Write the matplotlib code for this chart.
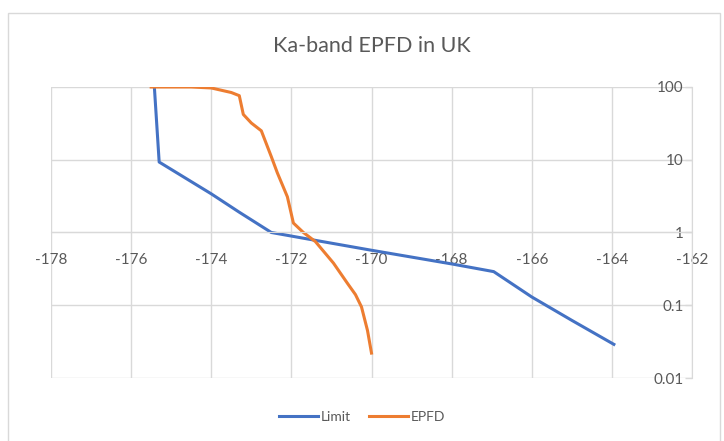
import matplotlib.pyplot as plt
import matplotlib.ticker as mticker
from matplotlib.patches import Rectangle

plt.rcParams['font.family'] = ['Lato', 'DejaVu Sans']
plt.rcParams['axes.unicode_minus'] = False

# data
limit_x = [-175.42, -175.3, -174.0, -173.3, -172.5, -171.4, -170.0, -168.0, -166.95, -166.0, -165.0, -163.95]
limit_y = [100, 9.3, 3.4, 1.9, 1.0, 0.78, 0.57, 0.37, 0.29, 0.13, 0.062, 0.029]

epfd_x = [-175.5, -174.5, -174.0, -173.5, -173.3, -173.2, -173.0, -172.75, -172.5, -172.35,
          -172.1, -171.95, -171.7, -171.4, -170.95, -170.6, -170.4, -170.25, -170.1, -170.0]
epfd_y = [100, 100, 97, 84, 76, 42, 32, 25, 11, 6.6,
          3.1, 1.35, 1.0, 0.75, 0.38, 0.2, 0.14, 0.095, 0.045, 0.022]

x_ticks = [-178, -176, -174, -172, -170, -168, -166, -164, -162]
y_ticks = [0.01, 0.1, 1, 10, 100]

blue = '#4472C4'
orange = '#ED7D31'
grid = '#D9D9D9'
txt = '#595959'

fig = plt.figure(figsize=(7.24, 4.41), dpi=100)
fig.patches.append(Rectangle((8 / 724, -0.01), 712 / 724, 1 - 13 / 441 + 0.01,
                             transform=fig.transFigure, fill=False,
                             edgecolor='#D9D9D9', lw=1))
ax = fig.add_axes([51 / 724, 1 - 378 / 441, 641 / 724, 291 / 441])

ax.plot(limit_x, limit_y, color=blue, lw=2.2, label='Limit')
ax.plot(epfd_x, epfd_y, color=orange, lw=2.2, label='EPFD')

ax.set_yscale('log')
ax.set_xlim(-178, -162)
ax.set_ylim(0.01, 100)
ax.set_xticks(x_ticks)
ax.set_yticks(y_ticks)
ax.yaxis.set_major_formatter(mticker.FuncFormatter(lambda v, p: '%g' % v))
ax.yaxis.set_minor_locator(mticker.NullLocator())

ax.grid(True, color=grid, lw=1)
ax.set_axisbelow(True)

for s in ['top', 'right']:
    ax.spines[s].set_visible(False)
ax.spines['left'].set_position(('data', -162))
ax.spines['bottom'].set_position(('data', 1))
ax.spines['left'].set_color(grid)
ax.spines['bottom'].set_color(grid)

ax.tick_params(axis='x', length=0, pad=15, labelsize=11, labelcolor=txt)
ax.tick_params(axis='y', length=5, width=1, color=grid, pad=1, labelsize=11, labelcolor=txt)

ax.set_title('Ka-band EPFD in UK', fontsize=15.5, color=txt, pad=25)

fig.legend(loc='center', bbox_to_anchor=(0.5, 1 - 417 / 441), ncol=2, frameon=False,
           fontsize=10, labelcolor=txt, handlelength=2.8, handletextpad=0.2, columnspacing=1.3)

fig.savefig('out.png', dpi=100)
